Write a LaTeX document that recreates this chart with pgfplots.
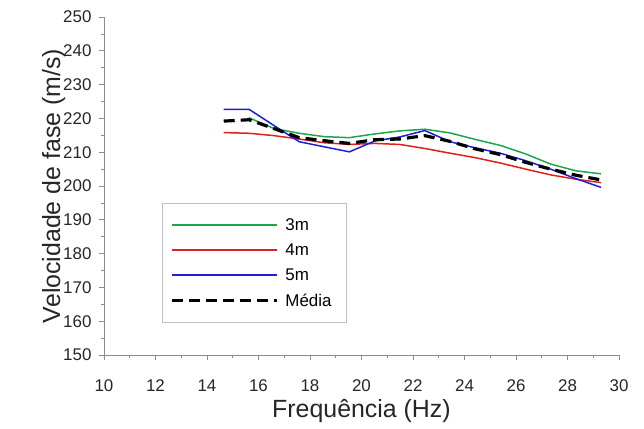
\documentclass[border=0pt]{standalone}
\usepackage{fontspec}
\setmainfont{Liberation Sans}
\usepackage{pgfplots}
\pgfplotsset{compat=1.18}

\definecolor{c3m}{RGB}{30,165,75}
\definecolor{c4m}{RGB}{225,30,30}
\definecolor{c5m}{RGB}{30,30,215}

\begin{document}
\begin{tikzpicture}
\useasboundingbox (-104bp,-74bp) rectangle (540bp,355bp);
\begin{axis}[
    at={(0,0)}, anchor=south west,
    scale only axis,
    width=515bp, height=338bp,
    xmin=10, xmax=30, ymin=150, ymax=250,
    axis lines*=left,
    axis line style={draw=black!45, line width=0.8pt},
    xtick distance=2, ytick distance=10,
    minor x tick num=1, minor y tick num=1,
    tick align=outside,
    major tick length=5bp, minor tick length=3bp,
    tick style={draw=black!45, line width=0.7pt},
    /pgf/number format/assume math mode=true,
    ticklabel style={font=\fontsize{17}{19}\selectfont, text=black!85},
    xticklabel style={yshift=-16bp},
    yticklabel style={xshift=-4bp},
    xlabel={Frequência (Hz)},
    ylabel={Velocidade de fase (m/s)},
    label style={font=\fontsize{25}{27}\selectfont, text=black!85},
    xlabel style={yshift=-1bp},
    ylabel style={yshift=-9bp},
    legend cell align=left,
    legend style={at={(axis cs:12.25,195)}, anchor=north west,
        draw=black!25, line width=0.6pt,
        font=\fontsize{17}{19}\selectfont,
        inner xsep=8bp, inner ysep=13bp, row sep=8bp,
        nodes={inner xsep=7bp}},
    legend image code/.code={\draw[#1] (0bp,0bp) -- (105bp,0bp);},
]
\addplot[color=c3m, line width=1.5pt] coordinates {
    (15.63,220.2) (16.60,217.0) (17.58,215.6) (18.55,214.6) (19.53,214.3)
    (20.51,215.4) (21.48,216.3) (22.46,216.8) (23.44,215.7) (24.41,213.8)
    (25.39,212.0) (26.37,209.5) (27.34,206.5) (28.32,204.5) (29.30,203.6)
};
\addlegendentry{3m}
\addplot[color=c4m, line width=1.5pt] coordinates {
    (14.65,215.8) (15.63,215.6) (16.60,214.9) (17.58,213.9) (18.55,212.8)
    (19.53,212.3) (20.51,212.6) (21.48,212.3) (22.46,211.1) (23.44,209.7)
    (24.41,208.4) (25.39,206.8) (26.37,205.0) (27.34,203.3) (28.32,202.0)
    (29.30,201.0)
};
\addlegendentry{4m}
\addplot[color=c5m, line width=1.5pt] coordinates {
    (14.65,222.7) (15.63,222.7) (16.60,217.9) (17.58,213.1) (18.55,211.6)
    (19.53,210.1) (20.51,213.3) (21.48,214.5) (22.46,216.4) (23.44,213.1)
    (24.41,211.3) (25.39,209.7) (26.37,207.5) (27.34,205.0) (28.32,202.2)
    (29.30,199.6)
};
\addlegendentry{5m}
\addplot[color=black, line width=3.2pt, dash pattern=on 11bp off 6bp] coordinates {
    (14.65,219.2) (15.63,219.6) (16.60,217.0) (17.58,214.3) (18.55,213.4)
    (19.53,212.6) (20.51,213.7) (21.48,213.9) (22.46,214.9) (23.44,213.2)
    (24.41,211.0) (25.39,209.3) (26.37,207.0) (27.34,205.0) (28.32,203.2)
    (29.30,201.8)
};
\addlegendentry{Média}
\end{axis}
\end{tikzpicture}
\end{document}
